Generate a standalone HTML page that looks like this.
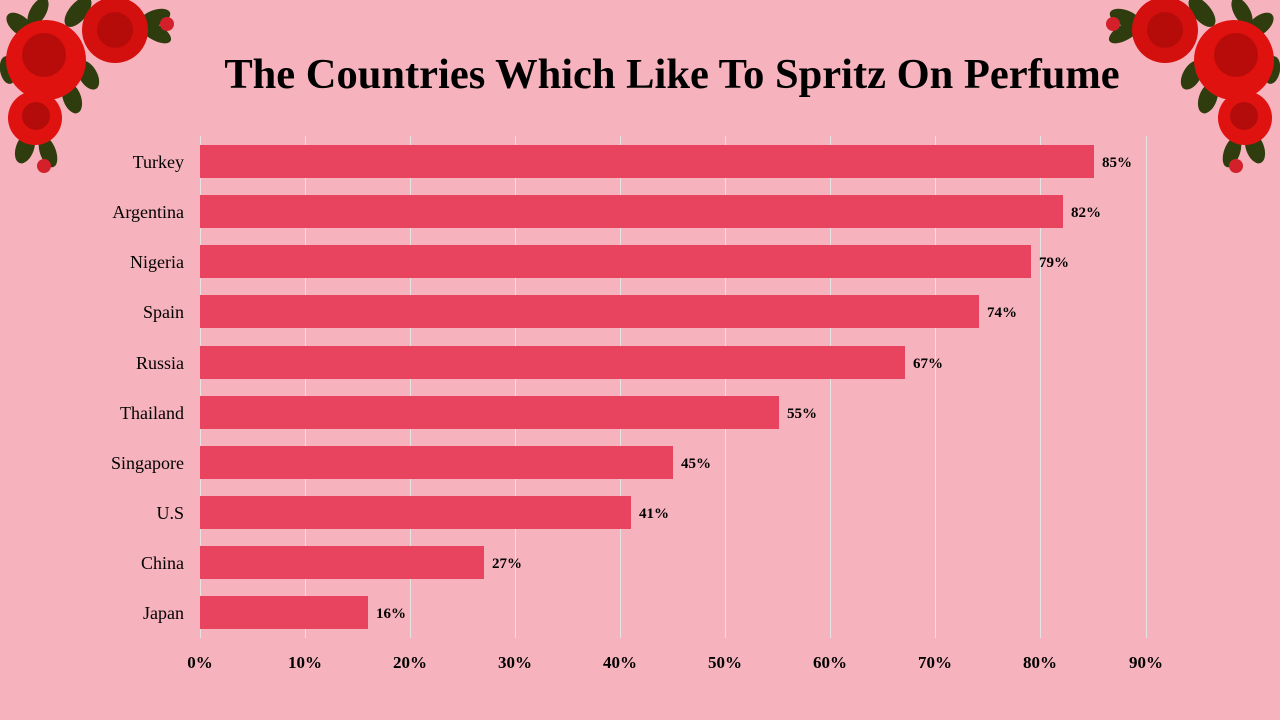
<!DOCTYPE html>
<html><head><style>
body{margin:0;background:#f6b3bd;}
svg{display:block}
</style></head><body>
<svg width="1280" height="720" xmlns="http://www.w3.org/2000/svg" font-family="Liberation Serif, serif">
<rect width="1280" height="720" fill="#f6b3bd"/>
<defs>
<g id="corner">
<ellipse cx="20" cy="25" rx="16" ry="9" fill="#2f3d0e" transform="rotate(40 20 25)"/>
<ellipse cx="38" cy="12" rx="16" ry="8" fill="#2f3d0e" transform="rotate(-60 38 12)"/>
<ellipse cx="78" cy="12" rx="18" ry="9" fill="#2f3d0e" transform="rotate(-50 78 12)"/>
<ellipse cx="155" cy="18" rx="16" ry="8" fill="#2f3d0e" transform="rotate(-20 155 18)"/>
<ellipse cx="155" cy="32" rx="18" ry="8" fill="#2f3d0e" transform="rotate(30 155 32)"/>
<ellipse cx="88" cy="75" rx="16" ry="9" fill="#2f3d0e" transform="rotate(60 88 75)"/>
<ellipse cx="72" cy="98" rx="16" ry="9" fill="#2f3d0e" transform="rotate(70 72 98)"/>
<ellipse cx="25" cy="148" rx="16" ry="9" fill="#2f3d0e" transform="rotate(-70 25 148)"/>
<ellipse cx="48" cy="152" rx="16" ry="8" fill="#2f3d0e" transform="rotate(70 48 152)"/>
<ellipse cx="8" cy="70" rx="14" ry="8" fill="#2f3d0e" transform="rotate(80 8 70)"/>
<circle cx="167" cy="24" r="7" fill="#d4202a"/>
<circle cx="44" cy="166" r="7" fill="#d4202a"/>
<circle cx="115" cy="30" r="33" fill="#d4100e"/>
<circle cx="115" cy="30" r="18" fill="#b50c0a"/>
<circle cx="46" cy="60" r="40" fill="#e0120f"/>
<circle cx="44" cy="55" r="22" fill="#b80c0a"/>
<circle cx="35" cy="118" r="27" fill="#e0120f"/>
<circle cx="36" cy="116" r="14" fill="#b40c0a"/>
</g>
</defs>
<use href="#corner"/>
<use href="#corner" transform="translate(1280,0) scale(-1,1)"/>
<text x="672" y="88" text-anchor="middle" font-size="42.5" font-weight="bold" fill="#000">The Countries Which Like To Spritz On Perfume</text>
<g stroke="#e4e4e4" stroke-width="1">
<line x1="200.5" y1="136" x2="200.5" y2="638"/>
<line x1="305.5" y1="136" x2="305.5" y2="638"/>
<line x1="410.5" y1="136" x2="410.5" y2="638"/>
<line x1="515.5" y1="136" x2="515.5" y2="638"/>
<line x1="620.5" y1="136" x2="620.5" y2="638"/>
<line x1="725.5" y1="136" x2="725.5" y2="638"/>
<line x1="830.5" y1="136" x2="830.5" y2="638"/>
<line x1="935.5" y1="136" x2="935.5" y2="638"/>
<line x1="1040.5" y1="136" x2="1040.5" y2="638"/>
<line x1="1146.5" y1="136" x2="1146.5" y2="638"/>
</g>
<g fill="#e9445f">
<rect x="200" y="145" width="894" height="33"/>
<rect x="200" y="195" width="863" height="33"/>
<rect x="200" y="245" width="831" height="33"/>
<rect x="200" y="295" width="779" height="33"/>
<rect x="200" y="346" width="705" height="33"/>
<rect x="200" y="396" width="579" height="33"/>
<rect x="200" y="446" width="473" height="33"/>
<rect x="200" y="496" width="431" height="33"/>
<rect x="200" y="546" width="284" height="33"/>
<rect x="200" y="596" width="168" height="33"/>
</g>
<g font-size="18" text-anchor="end" fill="#000">
<text x="184" y="168">Turkey</text>
<text x="184" y="218">Argentina</text>
<text x="184" y="268">Nigeria</text>
<text x="184" y="318">Spain</text>
<text x="184" y="369">Russia</text>
<text x="184" y="419">Thailand</text>
<text x="184" y="469">Singapore</text>
<text x="184" y="519">U.S</text>
<text x="184" y="569">China</text>
<text x="184" y="619">Japan</text>
</g>
<g font-size="15" font-weight="bold" fill="#000">
<text x="1102" y="167">85%</text>
<text x="1071" y="217">82%</text>
<text x="1039" y="267">79%</text>
<text x="987" y="317">74%</text>
<text x="913" y="368">67%</text>
<text x="787" y="418">55%</text>
<text x="681" y="468">45%</text>
<text x="639" y="518">41%</text>
<text x="492" y="568">27%</text>
<text x="376" y="618">16%</text>
</g>
<g font-size="17" font-weight="bold" text-anchor="middle" fill="#000">
<text x="200" y="668">0%</text>
<text x="305" y="668">10%</text>
<text x="410" y="668">20%</text>
<text x="515" y="668">30%</text>
<text x="620" y="668">40%</text>
<text x="725" y="668">50%</text>
<text x="830" y="668">60%</text>
<text x="935" y="668">70%</text>
<text x="1040" y="668">80%</text>
<text x="1146" y="668">90%</text>
</g>
</svg>
</body></html>
